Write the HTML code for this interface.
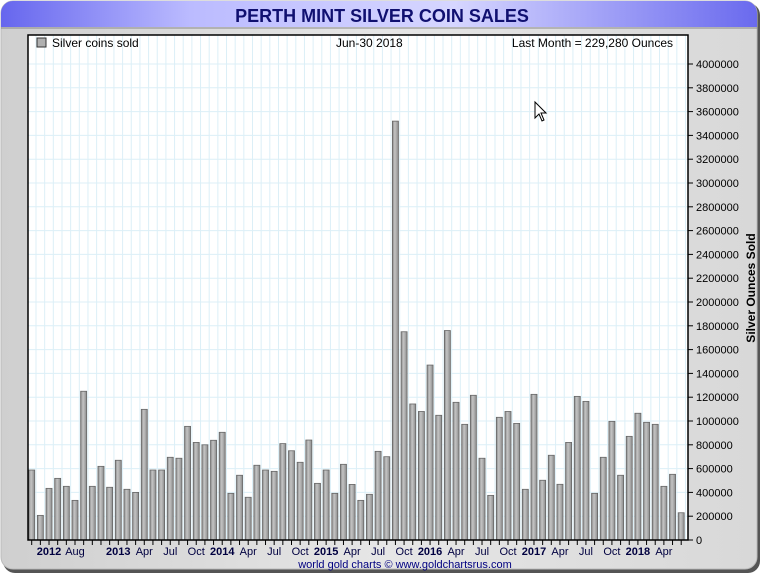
<!DOCTYPE html>
<html><head><meta charset="utf-8"><style>
body{margin:0;width:762px;height:575px;background:#fff;overflow:hidden;font-family:"Liberation Sans",sans-serif}
</style></head><body>
<svg id="chart" width="762" height="575" xmlns="http://www.w3.org/2000/svg" font-family="Liberation Sans, sans-serif">
<defs>
<linearGradient id="tg" x1="0" x2="1" y1="0" y2="0"><stop offset="0" stop-color="#6666ee"/><stop offset="0.25" stop-color="#bbbbff"/><stop offset="0.6" stop-color="#d6d6ff"/><stop offset="1" stop-color="#6a6aee"/></linearGradient>
<linearGradient id="bg" x1="0" x2="1"><stop offset="0" stop-color="#8a8a8a"/><stop offset="0.4" stop-color="#c4c4c4"/><stop offset="1" stop-color="#8c8c8c"/></linearGradient>
<linearGradient id="fg" x1="0" x2="1"><stop offset="0" stop-color="#cfcfcf"/><stop offset="0.5" stop-color="#e6e6e6"/><stop offset="1" stop-color="#d8d8d8"/></linearGradient>
</defs>
<rect x="3" y="3" width="757" height="570" rx="12" fill="#555"/>
<rect x="1" y="1" width="756" height="568" rx="12" fill="url(#fg)" stroke="#bbb"/>
<path d="M1 27 V13 A12 12 0 0 1 13 1 H745 A12 12 0 0 1 757 13 V27 Z" fill="url(#tg)"/>
<line x1="1" y1="28" x2="757" y2="28" stroke="#888" />
<text x="382" y="22" text-anchor="middle" font-size="18" font-weight="bold" fill="#101070">PERTH MINT SILVER COIN SALES</text>
<rect x="28" y="35" width="660" height="505" fill="#fff"/>
<g id="grid"></g>
<g id="bars"></g>
<rect x="28" y="35" width="660" height="505" fill="none" stroke="#000" stroke-width="1.5"/>
<g id="yaxis"></g>
<g id="xaxis"></g>
<rect x="37" y="38" width="9" height="9" fill="#b0b0b0" stroke="#333"/>
<text x="52" y="47" font-size="12" fill="#000">Silver coins sold</text>
<text x="336" y="47" font-size="12" fill="#000">Jun-30  2018</text>
<text x="673" y="47" font-size="12" text-anchor="end" fill="#000">Last Month = 229,280 Ounces</text>
<text transform="translate(755,288) rotate(-90)" text-anchor="middle" font-size="12" font-weight="bold">Silver Ounces Sold</text>
<text x="405" y="568" text-anchor="middle" font-size="11" fill="#000080">world gold charts © www.goldchartsrus.com</text>
<g><path d="M535 102 L535 118 L539 114 L542 121 L544 120 L541 113 L546 113 Z" fill="#fff" stroke="#000" stroke-width="1"/></g>
</svg>
<script>
const values=[0.588,0.207,0.434,0.518,0.451,0.333,1.25,0.451,0.619,0.443,0.67,0.426,0.40,1.098,0.588,0.588,0.695,0.687,0.955,0.82,0.80,0.838,0.905,0.392,0.544,0.359,0.628,0.588,0.577,0.81,0.75,0.653,0.84,0.476,0.588,0.392,0.636,0.467,0.333,0.384,0.745,0.70,3.52,1.75,1.143,1.08,1.47,1.048,1.76,1.157,0.972,1.216,0.687,0.375,1.031,1.08,0.98,0.426,1.224,0.502,0.712,0.468,0.82,1.207,1.165,0.392,0.695,0.997,0.544,0.871,1.065,0.989,0.972,0.451,0.552,0.229];
const yTicks=[0,200000,400000,600000,800000,1000000,1200000,1400000,1600000,1800000,2000000,2200000,2400000,2600000,2800000,3000000,3200000,3400000,3600000,3800000,4000000];
const xLabels=[[2,"2012",1],[5,"Aug",0],[10,"2013",1],[13,"Apr",0],[16,"Jul",0],[19,"Oct",0],[22,"2014",1],[25,"Apr",0],[28,"Jul",0],[31,"Oct",0],[34,"2015",1],[37,"Apr",0],[40,"Jul",0],[43,"Oct",0],[46,"2016",1],[49,"Apr",0],[52,"Jul",0],[55,"Oct",0],[58,"2017",1],[61,"Apr",0],[64,"Jul",0],[67,"Oct",0],[70,"2018",1],[73,"Apr",0]];
const NS="http://www.w3.org/2000/svg";
const x=i=>31.7+i*8.66;
const y=v=>540-v/1000000*119;
function mk(t,a,p){const e=document.createElementNS(NS,t);for(const k in a)e.setAttribute(k,a[k]);document.getElementById(p).appendChild(e);return e;}
for(let i=-1;i<77;i++){const xx=x(i)+4.3;if(xx>28&&xx<688)mk('line',{x1:xx,x2:xx,y1:35,y2:540,stroke:'#dceff7','stroke-width':1},'grid');}
yTicks.forEach(v=>{mk('line',{x1:28,x2:688,y1:y(v),y2:y(v),stroke:'#dceff7'},'grid');
 mk('line',{x1:688,x2:693,y1:y(v),y2:y(v),stroke:'#000'},'yaxis');
 const t=mk('text',{x:696,y:y(v)+4,'font-size':11},'yaxis');t.textContent=v;
 
 });
values.forEach((v,i)=>{const r=mk('rect',{x:x(i)-3,y:y(v*1000000),width:6,height:540-y(v*1000000),fill:'url(#bg)',stroke:'#666','stroke-width':0.8},'bars');
 
 
 mk('line',{x1:x(i),x2:x(i),y1:540,y2:545,stroke:'#000'},'xaxis');});
xLabels.forEach(l=>{const t=mk('text',{x:x(l[0]),y:555,'text-anchor':'middle','font-size':11,'font-weight':l[2]?'bold':'normal',fill:'#000040'},'xaxis');t.textContent=l[1];
 
 });
</script>
</body></html>
